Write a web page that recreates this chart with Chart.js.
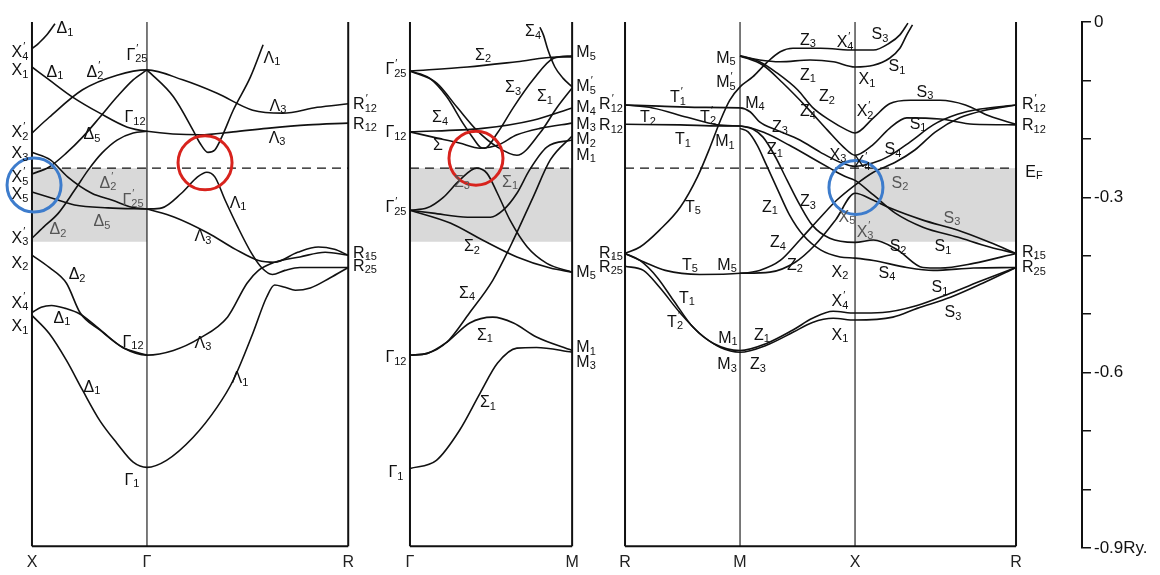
<!DOCTYPE html>
<html>
<head>
<meta charset="utf-8">
<script src="https://cdn.jsdelivr.net/npm/chart.js@4"></script>
<style>
  html, body { margin: 0; padding: 0; background: #fff; }
  #wrap { width: 1160px; height: 575px; }
</style>
</head>
<body>
<div id="wrap"><canvas id="bands" width="1160" height="575"></canvas></div>
<script>
// band structure along X-G-R | G-M | R-M-X-R, energies in Ry
// k is measured from the start of each panel (units of pi/a)

const panelStart = [0.278, 3.565, 5.435];
const symK = [[0, 1, 2.75], [0, 1.41], [0, 1, 2, 3.4]];
const symNames = [['X', 'Γ', 'R'], ['Γ', 'M'], ['R', 'M', 'X', 'R']];
const E_F = -0.25;
const shadeLow = -0.376;
const E_BOTTOM = -0.897;
const yTicks = [0, -0.3, -0.6, -0.9];

// --- panel 1 : X - Gamma - R
const xgDelta1top = [[0,-0.046],[0.06,-0.036],[0.13,-0.022],[0.2,-0.003]];
const xgrX1 = [[0,-0.077],[0.15,-0.099],[0.35,-0.128],[0.59,-0.156],[0.83,-0.180],[1,-0.187],[1.46,-0.193],[1.75,-0.188],[2.04,-0.182],[2.4,-0.176],[2.75,-0.173]];
const xgrX2p = [[0,-0.190],[0.15,-0.163],[0.44,-0.116],[0.74,-0.091],[1,-0.082],[1.31,-0.099],[1.61,-0.122],[1.92,-0.151],[2.18,-0.156],[2.48,-0.146],[2.75,-0.140]];
const grLambda1up = [[1,-0.082],[1.23,-0.128],[1.40,-0.185],[1.46,-0.207],[1.53,-0.223],[1.59,-0.219],[1.65,-0.197],[1.75,-0.151],[1.90,-0.094],[2.01,-0.039]];
const xgX5p = [[0,-0.260],[0.15,-0.248],[0.30,-0.224],[0.44,-0.197],[0.59,-0.163],[0.74,-0.128],[0.88,-0.099],[1,-0.082]];
const xgX3p = [[0,-0.370],[0.10,-0.351],[0.23,-0.327],[0.37,-0.288],[0.49,-0.253],[0.61,-0.224],[0.74,-0.202],[0.88,-0.190],[1,-0.187]];
const xgX3 = [[0,-0.223],[0.16,-0.236],[0.31,-0.265],[0.52,-0.293],[0.70,-0.305],[0.87,-0.317],[1,-0.320]];
const xgX5 = [[0,-0.291],[0.17,-0.301],[0.37,-0.313],[0.66,-0.318],[1,-0.320]];
const grLambda3mid = [[1,-0.320],[1.24,-0.334],[1.53,-0.361],[1.77,-0.389],[1.97,-0.408],[2.11,-0.411],[2.31,-0.394],[2.49,-0.385],[2.63,-0.389],[2.75,-0.399]];
const grLambda1mid = [[1,-0.320],[1.13,-0.318],[1.30,-0.293],[1.44,-0.265],[1.52,-0.257],[1.59,-0.265],[1.68,-0.305],[1.79,-0.351],[1.91,-0.396],[2.0,-0.421],[2.09,-0.432],[2.2,-0.425],[2.33,-0.420],[2.55,-0.420],[2.75,-0.420]];
const xgX2 = [[0,-0.399],[0.15,-0.420],[0.30,-0.447],[0.42,-0.498],[0.59,-0.527],[0.79,-0.557],[1,-0.570]];
const xgrX4p = [[0,-0.497],[0.08,-0.488],[0.17,-0.485],[0.29,-0.490],[0.42,-0.500],[0.59,-0.526],[0.79,-0.557],[1,-0.570],[1.23,-0.562],[1.46,-0.541],[1.70,-0.505],[1.87,-0.447],[1.97,-0.425],[2.11,-0.411],[2.33,-0.402],[2.55,-0.394],[2.75,-0.399]];
const xgrX1low = [[0,-0.502],[0.15,-0.533],[0.30,-0.579],[0.44,-0.630],[0.59,-0.682],[0.74,-0.721],[0.88,-0.753],[1,-0.762],[1.17,-0.750],[1.40,-0.711],[1.61,-0.659],[1.75,-0.613],[1.92,-0.533],[2.04,-0.471],[2.11,-0.450],[2.2,-0.454],[2.29,-0.459],[2.42,-0.455],[2.59,-0.438],[2.75,-0.420]];

// --- panel 2 : Gamma - M
const gmSigma2up = [[0,-0.084],[0.5,-0.077],[0.93,-0.068],[1.28,-0.060],[1.41,-0.060]];
const gmSigma4top = [[1.13,-0.009],[1.16,-0.022],[1.2,-0.048],[1.26,-0.077],[1.33,-0.096],[1.41,-0.111]];
const gmSigma3up = [[0,-0.084],[0.17,-0.096],[0.32,-0.128],[0.46,-0.173],[0.55,-0.199],[0.61,-0.214],[0.65,-0.216],[0.76,-0.190],[0.9,-0.146],[1.07,-0.099],[1.25,-0.062],[1.41,-0.058]];
const gmSigma1up = [[0,-0.084],[0.23,-0.104],[0.41,-0.146],[0.58,-0.185],[0.76,-0.214],[0.93,-0.228],[1.13,-0.190],[1.28,-0.146],[1.41,-0.113]];
const gmSigma4 = [[0,-0.188],[0.63,-0.182],[1.07,-0.168],[1.41,-0.147]];
const gmSigma = [[0,-0.188],[0.2,-0.197],[0.43,-0.207],[0.61,-0.216],[0.76,-0.211],[0.93,-0.193],[1.13,-0.182],[1.41,-0.173]];
const gmSigma3low = [[0,-0.322],[0.15,-0.318],[0.29,-0.300],[0.43,-0.271],[0.58,-0.250],[0.67,-0.259],[0.76,-0.293],[0.87,-0.339],[1.02,-0.385],[1.19,-0.413],[1.41,-0.428]];
const gmSigma1low = [[0,-0.322],[0.2,-0.327],[0.5,-0.334],[0.70,-0.334],[0.81,-0.322],[0.93,-0.293],[1.04,-0.253],[1.19,-0.214],[1.41,-0.202]];
const gmSigma2low = [[0,-0.322],[0.35,-0.344],[0.63,-0.373],[0.93,-0.402],[1.22,-0.421],[1.41,-0.428]];
const gmSigma4low = [[0,-0.570],[0.15,-0.567],[0.32,-0.548],[0.52,-0.497],[0.72,-0.442],[0.87,-0.385],[1.07,-0.300],[1.22,-0.236],[1.41,-0.195]];
const gmSigma1hump = [[0,-0.570],[0.15,-0.567],[0.32,-0.548],[0.52,-0.515],[0.72,-0.505],[0.90,-0.515],[1.10,-0.539],[1.41,-0.562]];
const gmSigma1bot = [[0,-0.764],[0.23,-0.750],[0.43,-0.699],[0.61,-0.635],[0.76,-0.584],[0.93,-0.558],[1.10,-0.557],[1.41,-0.565]];

// --- panel 3 : R - M - X - R
const rmxT5up = [[0,-0.396],[0.13,-0.385],[0.30,-0.356],[0.48,-0.317],[0.63,-0.265],[0.74,-0.214],[0.83,-0.168],[0.91,-0.134],[1.0,-0.111],[1.11,-0.094],[1.23,-0.070],[1.35,-0.051],[1.46,-0.045],[1.70,-0.045],[2.0,-0.048],[2.16,-0.048],[2.30,-0.036],[2.39,-0.022],[2.46,-0.002]];
const mxZ1top = [[1.0,-0.058],[1.17,-0.065],[1.35,-0.068],[1.61,-0.065],[1.81,-0.068],[2.0,-0.077],[2.16,-0.074],[2.30,-0.062],[2.39,-0.045],[2.45,-0.022],[2.50,-0.005]];
const mxrZ2 = [[1.0,-0.058],[1.17,-0.068],[1.32,-0.087],[1.50,-0.116],[1.63,-0.146],[1.78,-0.168],[1.93,-0.185],[2.0,-0.190],[2.16,-0.164],[2.30,-0.140],[2.48,-0.134],[2.74,-0.134],[2.96,-0.142],[3.17,-0.161],[3.4,-0.175]];
const mxrZ4 = [[1.0,-0.058],[1.20,-0.074],[1.37,-0.104],[1.58,-0.146],[1.76,-0.185],[1.90,-0.214],[2.0,-0.228],[2.15,-0.211],[2.30,-0.182],[2.45,-0.164],[2.74,-0.166],[3.03,-0.175],[3.4,-0.176]];
const rmxrT1p = [[0,-0.142],[0.30,-0.144],[0.65,-0.146],[1.0,-0.147],[1.09,-0.154],[1.17,-0.171],[1.32,-0.185],[1.52,-0.202],[1.70,-0.223],[1.87,-0.240],[2.0,-0.247],[2.16,-0.241],[2.30,-0.229],[2.48,-0.205],[2.68,-0.176],[2.89,-0.158],[3.09,-0.149],[3.4,-0.142]];
const rmT2 = [[0,-0.142],[0.24,-0.147],[0.54,-0.163],[0.80,-0.176],[1.0,-0.178]];
const rmxrT1 = [[0,-0.175],[0.48,-0.176],[0.83,-0.178],[1.0,-0.178],[1.22,-0.190],[1.43,-0.211],[1.61,-0.231],[1.78,-0.250],[1.91,-0.264],[2.0,-0.271],[2.16,-0.296],[2.35,-0.327],[2.59,-0.351],[2.89,-0.368],[3.17,-0.385],[3.4,-0.396]];
const mxrZ3steep = [[1.0,-0.178],[1.11,-0.183],[1.20,-0.197],[1.30,-0.228],[1.41,-0.271],[1.52,-0.313],[1.63,-0.348],[1.78,-0.370],[2.0,-0.377],[2.16,-0.373],[2.37,-0.390],[2.59,-0.420],[2.74,-0.421],[3.03,-0.413],[3.4,-0.396]];
const mxrZ1steep = [[1.0,-0.182],[1.07,-0.188],[1.15,-0.211],[1.23,-0.245],[1.33,-0.288],[1.43,-0.330],[1.55,-0.365],[1.70,-0.390],[1.87,-0.402],[2.0,-0.404],[2.16,-0.408],[2.45,-0.420],[2.68,-0.425],[3.03,-0.421],[3.4,-0.420]];
const rmxrT5low = [[0,-0.396],[0.17,-0.411],[0.35,-0.425],[0.65,-0.432],[1.0,-0.430],[1.17,-0.425],[1.35,-0.408],[1.52,-0.373],[1.70,-0.334],[1.84,-0.305],[2.0,-0.279],[2.16,-0.257],[2.35,-0.240],[2.52,-0.219],[2.70,-0.188],[2.91,-0.164],[3.13,-0.151],[3.4,-0.142]];
const mxrZ2low = [[1.0,-0.430],[1.26,-0.428],[1.48,-0.411],[1.65,-0.382],[1.83,-0.339],[2.0,-0.293],[2.16,-0.305],[2.30,-0.318],[2.59,-0.339],[2.89,-0.356],[3.17,-0.377],[3.4,-0.396]];
const rmxrT1low = [[0,-0.396],[0.13,-0.408],[0.28,-0.437],[0.42,-0.476],[0.59,-0.522],[0.77,-0.550],[1.0,-0.562],[1.23,-0.550],[1.46,-0.527],[1.63,-0.507],[1.81,-0.495],[2.0,-0.498],[2.24,-0.497],[2.54,-0.485],[2.83,-0.464],[3.11,-0.442],[3.4,-0.420]];
const rmxrT2low = [[0,-0.418],[0.16,-0.425],[0.30,-0.454],[0.48,-0.498],[0.65,-0.533],[0.83,-0.557],[1.0,-0.565],[1.23,-0.553],[1.46,-0.531],[1.63,-0.514],[1.81,-0.507],[2.0,-0.510],[2.33,-0.505],[2.54,-0.490],[2.83,-0.471],[3.11,-0.447],[3.4,-0.420]];

const panelBands = [
  [xgDelta1top, xgrX1, xgrX2p, grLambda1up, xgX5p, xgX3p, xgX3, xgX5, grLambda3mid, grLambda1mid, xgX2, xgrX4p, xgrX1low],
  [gmSigma2up, gmSigma4top, gmSigma3up, gmSigma1up, gmSigma4, gmSigma, gmSigma3low, gmSigma1low, gmSigma2low, gmSigma4low, gmSigma1hump, gmSigma1bot],
  [rmxT5up, mxZ1top, mxrZ2, mxrZ4, rmxrT1p, rmT2, rmxrT1, mxrZ3steep, mxrZ1steep, rmxrT5low, mxrZ2low, rmxrT1low, rmxrT2low]
];

// shaded window below E_F: [panel, kFrom, kTo]
const shadeSpans = [[0, 0, 1], [1, 0, 1.41], [2, 2, 3.4]];

// highlight circles [x, E]
const redCircles = [[1.783, -0.241], [4.139, -0.233]];
const blueCircles = [[0.296, -0.279], [7.443, -0.283]];

// state labels: text, x, E, grey?
const labels = [
  ["X_4'", 0.174, -0.053], ['X_1', 0.174, -0.084], ["X_2'", 0.174, -0.190], ['X_3', 0.174, -0.226],
  ["X_5'", 0.174, -0.267], ['X_5', 0.174, -0.296], ["X_3'", 0.174, -0.370], ['X_2', 0.174, -0.413],
  ["X_4'", 0.174, -0.481], ['X_1', 0.174, -0.521],
  ['Δ_1', 0.565, -0.012], ['Δ_1', 0.478, -0.086], ["Δ_2'", 0.826, -0.086], ["Γ_25'", 1.191, -0.057],
  ['Γ_12', 1.174, -0.164], ['Δ_5', 0.8, -0.193], ['Λ_1', 2.365, -0.062], ['Λ_3', 2.417, -0.144],
  ['Λ_3', 2.409, -0.199], ["R_12'", 3.174, -0.142], ['R_12', 3.174, -0.175],
  ["Δ_2'", 0.939, -0.276, 1], ["Γ_25'", 1.157, -0.305, 1], ['Δ_5', 0.887, -0.342, 1], ['Δ_2', 0.504, -0.356, 1],
  ['Λ_1', 2.07, -0.310], ['Λ_3', 1.765, -0.368], ['R_15', 3.174, -0.396], ["R_25'", 3.174, -0.418],
  ['Δ_2', 0.670, -0.433], ['Δ_1', 0.539, -0.507], ['Γ_12', 1.157, -0.548], ['Λ_3', 1.765, -0.550],
  ['Δ_1', 0.8, -0.625], ['Λ_1', 2.087, -0.610], ['Γ_1', 1.148, -0.784],
  ['Σ_4', 4.635, -0.017], ['Σ_2', 4.2, -0.057], ['M_5', 5.096, -0.053], ["Γ_25'", 3.443, -0.082],
  ["M_5'", 5.096, -0.111], ['Σ_3', 4.461, -0.113], ['Σ_1', 4.739, -0.128], ['M_4', 5.096, -0.147],
  ['Σ_4', 3.826, -0.164], ['M_3', 5.096, -0.175], ['Γ_12', 3.443, -0.190], ['Σ', 3.809, -0.211],
  ['M_2', 5.096, -0.202], ['M_1', 5.096, -0.228], ['Σ_3', 4.017, -0.274, 1], ['Σ_1', 4.435, -0.274, 1],
  ["Γ_25'", 3.443, -0.318], ['Σ_2', 4.104, -0.385], ['M_5', 5.096, -0.428], ['Σ_4', 4.061, -0.464],
  ['Σ_1', 4.217, -0.536], ['M_1', 5.096, -0.557], ['M_3', 5.096, -0.582], ['Γ_12', 3.443, -0.574],
  ['Σ_1', 4.243, -0.651], ['Γ_1', 3.443, -0.771],
  ["R_12'", 5.313, -0.142], ['R_12', 5.313, -0.178], ["T_1'", 5.896, -0.130], ['T_2', 5.635, -0.164],
  ["T_2'", 6.157, -0.163], ['T_1', 5.939, -0.202], ['M_1', 6.304, -0.205], ['M_5', 6.313, -0.062],
  ["M_5'", 6.313, -0.104], ['M_4', 6.565, -0.139], ['Z_3', 7.026, -0.031], ["X_4'", 7.348, -0.036],
  ['S_3', 7.652, -0.022], ['Z_1', 7.026, -0.091], ['X_1', 7.539, -0.099], ['S_1', 7.8, -0.077],
  ['Z_2', 7.191, -0.128], ['Z_4', 7.026, -0.154], ["X_2'", 7.522, -0.154], ['S_3', 8.043, -0.120],
  ['Z_3', 6.783, -0.180], ['S_1', 7.983, -0.175], ['Z_1', 6.739, -0.219], ['X_3', 7.287, -0.228],
  ["X_4'", 7.496, -0.241], ['S_4', 7.765, -0.219], ['S_2', 7.826, -0.276, 1], ['T_5', 6.026, -0.317],
  ['Z_1', 6.696, -0.317], ['Z_3', 7.026, -0.308], ['X_5', 7.365, -0.334, 1], ['S_3', 8.278, -0.336, 1],
  ["X_3'", 7.522, -0.360, 1], ['Z_4', 6.765, -0.378], ['S_2', 7.809, -0.385], ['S_1', 8.2, -0.385],
  ['R_15', 5.313, -0.396], ["R_25'", 5.313, -0.420], ['T_5', 6.0, -0.416], ['M_5', 6.322, -0.416],
  ['Z_2', 6.913, -0.416], ['X_2', 7.304, -0.428], ['S_4', 7.713, -0.430], ['S_1', 8.174, -0.455],
  ['T_1', 5.974, -0.473], ["X_4'", 7.304, -0.479], ['S_3', 8.287, -0.497], ["T_2'", 5.87, -0.514],
  ['X_1', 7.304, -0.536], ['M_1', 6.33, -0.541], ['Z_1', 6.626, -0.536], ['M_3', 6.322, -0.587],
  ['Z_3', 6.591, -0.587],
  ["R_12'", 8.991, -0.142], ['R_12', 8.991, -0.178], ['E_F', 8.991, -0.257], ['R_15', 8.991, -0.394],
  ["R_25'", 8.991, -0.421]
];

const FONT = '"Liberation Sans", "DejaVu Sans", sans-serif';
const INK = '#111';

function pts(arr, off) {
  return arr.map(p => ({x: off + p[0], y: p[1]}));
}

function segment(a, b, width, dash) {
  return {
    data: [a, b], showLine: true, pointRadius: 0, borderColor: INK,
    borderWidth: width, borderDash: dash || [], order: 2
  };
}

const datasets = [];

// bands
panelBands.forEach((list, p) => {
  list.forEach(b => {
    datasets.push({
      data: pts(b, panelStart[p]), showLine: true, pointRadius: 0,
      borderColor: INK, borderWidth: 1.6, cubicInterpolationMode: 'monotone', order: 1
    });
  });
});

// panel frames + fermi level
symK.forEach((ks, p) => {
  const off = panelStart[p];
  ks.forEach((k, i) => {
    const outer = i === 0 || i === ks.length - 1;
    datasets.push(segment({x: off + k, y: 0}, {x: off + k, y: E_BOTTOM}, outer ? 2 : 1.1));
  });
  const a = off + ks[0], b = off + ks[ks.length - 1];
  datasets.push(segment({x: a, y: E_BOTTOM}, {x: b, y: E_BOTTOM}, 2));
  datasets.push(segment({x: a, y: E_F}, {x: b, y: E_F}, 1.4, [9, 6]));
});

// circles
function circles(list, color) {
  return {
    data: list.map(c => ({x: c[0], y: c[1]})), showLine: false,
    pointRadius: 27, pointBorderWidth: 3, pointBorderColor: color,
    pointBackgroundColor: 'rgba(0,0,0,0)', clip: false, order: 0
  };
}
datasets.push(circles(redCircles, '#d8231d'));
datasets.push(circles(blueCircles, '#3d7ccc'));

const shadePlugin = {
  id: 'shade',
  beforeDatasetsDraw(chart) {
    const {ctx, scales: {x, y}} = chart;
    ctx.save();
    ctx.fillStyle = '#d9d9d9';
    const top = y.getPixelForValue(E_F), bot = y.getPixelForValue(shadeLow);
    shadeSpans.forEach(s => {
      const l = x.getPixelForValue(panelStart[s[0]] + s[1]);
      const r = x.getPixelForValue(panelStart[s[0]] + s[2]);
      ctx.fillRect(l, top, r - l, bot - top);
    });
    ctx.restore();
  }
};

function drawLabel(ctx, text, cx, cy, color) {
  let base = text, sub = '', prime = false;
  if (base.endsWith("'")) { prime = true; base = base.slice(0, -1); }
  const i = base.indexOf('_');
  if (i >= 0) { sub = base.slice(i + 1); base = base.slice(0, i); }
  const big = '16px ' + FONT, small = '11px ' + FONT;
  ctx.font = big;
  const wb = ctx.measureText(base).width;
  ctx.font = small;
  const ws = ctx.measureText(sub).width;
  const x0 = cx - (wb + ws) / 2;
  ctx.fillStyle = color;
  ctx.textAlign = 'left';
  ctx.textBaseline = 'middle';
  ctx.font = big;
  ctx.fillText(base, x0, cy);
  ctx.font = small;
  ctx.fillText(sub, x0 + wb, cy + 4);
  if (prime) ctx.fillText('′', x0 + wb + 1, cy - 6);
}

const labelPlugin = {
  id: 'stateLabels',
  afterDatasetsDraw(chart) {
    const {ctx, chartArea, scales: {x, y}} = chart;
    ctx.save();
    labels.forEach(l => {
      drawLabel(ctx, l[0], x.getPixelForValue(l[1]), y.getPixelForValue(l[2]), l[3] ? '#555' : INK);
    });
    // symmetry point names under the frames
    ctx.font = '16px ' + FONT;
    ctx.fillStyle = '#222';
    ctx.textAlign = 'center';
    ctx.textBaseline = 'middle';
    symK.forEach((ks, p) => ks.forEach((k, i) => {
      ctx.fillText(symNames[p][i], x.getPixelForValue(panelStart[p] + k), chartArea.bottom + 15);
    }));
    ctx.restore();
  }
};

new Chart(document.getElementById('bands'), {
  type: 'scatter',
  data: {datasets: datasets},
  plugins: [shadePlugin, labelPlugin],
  options: {
    responsive: false,
    animation: false,
    events: [],
    layout: {autoPadding: false, padding: {top: 22, left: 0, right: 0, bottom: 27}},
    plugins: {legend: {display: false}, tooltip: {enabled: false}},
    scales: {
      x: {
        type: 'linear', min: 0, max: 1082 / 115, display: false
      },
      y: {
        type: 'linear', position: 'right', min: -0.9, max: 0,
        afterFit: s => { s.width = 78; },
        grid: {drawOnChartArea: false, color: INK, lineWidth: 1.5, tickLength: 9},
        border: {display: true, color: INK, width: 2},
        ticks: {
          stepSize: 0.1, padding: 3, color: INK,
          font: {size: 17, family: FONT},
          callback: v => {
            const r = Math.round(v * 10) / 10;
            if (!yTicks.includes(r)) return '';
            if (r === 0) return '0';
            return r === -0.9 ? '-0.9Ry.' : r.toFixed(1);
          }
        }
      }
    }
  }
});
</script>
</body>
</html>
